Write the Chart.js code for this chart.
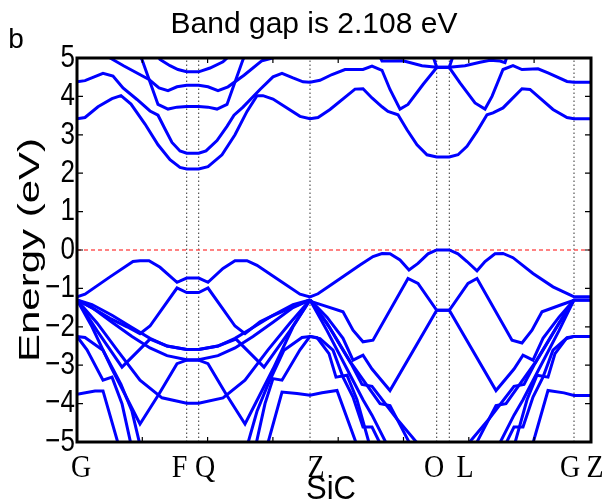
<!DOCTYPE html>
<html>
<head>
<meta charset="utf-8">
<script src="https://cdn.jsdelivr.net/npm/chart.js@4.4.1/dist/chart.umd.min.js"></script>
<style>
  body { margin: 0; background: #fff; }
  canvas { display: block; }
</style>
</head>
<body>
<canvas id="bands" width="605" height="503"></canvas>
<script>
// k-path positions of the high symmetry points and their labels
const kPoints = [0, 1.097, 1.217, 2.33, 3.597, 3.723, 4.97, 5.14];
const kNames = ["G", "F", "Q", "Z", "O", "L", "G", "Z"];
const kNamePos = [0.04, 1.025, 1.28, 2.39, 3.57, 3.88, 4.93, 5.18];
const kGuides = [1.097, 1.217, 2.33, 3.597, 3.723, 4.97];
const kMinor = [0.653, 1.306, 1.959, 2.612, 3.265, 3.918, 4.571];
const energyTicks = [5, 4, 3, 2, 1, 0, -1, -2, -3, -4, -5];

// conduction bands [k, E]
const cb1 = [[0,3.42],[0.08,3.45],[0.21,3.73],[0.35,3.94],[0.44,4.02],[0.54,3.80],[0.68,3.28],[0.81,2.74],[0.93,2.35],[1.03,2.15],[1.097,2.108],[1.217,2.108],[1.31,2.17],[1.45,2.48],[1.58,3.0],[1.70,3.61],[1.80,4.02],[1.86,4.02],[1.96,3.93],[2.23,3.48],[2.33,3.42],[2.41,3.45],[2.53,3.66],[2.78,4.19],[2.86,4.20],[2.95,3.96],[3.05,3.73],[3.11,3.61],[3.21,3.52],[3.30,3.13],[3.40,2.74],[3.50,2.48],[3.597,2.42],[3.723,2.42],[3.81,2.48],[3.90,2.70],[4.00,3.09],[4.10,3.52],[4.16,3.57],[4.26,3.70],[4.45,4.20],[4.53,4.18],[4.76,3.66],[4.90,3.45],[4.97,3.42],[5.14,3.42]];
const cb2 = [[0,4.38],[0.08,4.41],[0.26,4.60],[0.36,4.53],[0.46,4.22],[0.60,3.92],[0.73,3.62],[0.81,3.51],[0.88,3.15],[0.95,2.80],[1.03,2.58],[1.097,2.52],[1.217,2.52],[1.29,2.58],[1.40,2.85],[1.50,3.22],[1.57,3.51],[1.66,3.72],[1.83,4.18],[1.96,4.51],[2.05,4.60],[2.16,4.48],[2.26,4.38],[2.33,4.37],[2.43,4.42],[2.55,4.57],[2.68,4.70],[2.86,4.70],[2.95,4.79],[3.05,4.68],[3.13,4.18],[3.23,3.67],[3.31,3.79],[3.46,4.31],[3.597,4.75],[3.723,4.75],[3.83,4.35],[3.98,3.83],[4.08,3.67],[4.15,4.0],[4.26,4.70],[4.36,4.80],[4.45,4.70],[4.61,4.72],[4.71,4.61],[4.90,4.39],[4.97,4.37],[5.14,4.37]];
const cb3 = [[0.60,5.2],[0.65,4.96],[0.81,3.79],[0.91,3.67],[1.0,3.72],[1.097,3.74],[1.217,3.74],[1.31,3.72],[1.40,3.67],[1.50,3.79],[1.66,4.96],[1.71,5.2]];
const cb4 = [[0.28,5.2],[0.33,5.0],[0.47,4.79],[0.72,4.44],[0.82,4.22],[0.91,4.15],[1.0,4.25],[1.097,4.29],[1.217,4.29],[1.31,4.25],[1.41,4.15],[1.51,4.25],[1.67,4.55],[1.85,4.93],[1.96,5.0],[2.02,5.2]];
const cb5 = [[0.78,5.2],[0.83,4.96],[0.93,4.80],[1.01,4.70],[1.097,4.64],[1.217,4.64],[1.33,4.74],[1.46,4.90],[1.50,5.0],[1.55,5.2]];
const cb6 = [[3.0,5.2],[3.05,4.92],[3.26,4.93],[3.45,4.80],[3.597,4.76],[3.723,4.76],[3.88,4.80],[4.03,4.89],[4.13,4.94],[4.23,4.92],[4.28,4.88],[4.32,5.2]];
const cb7 = [[3.54,5.2],[3.597,4.76],[3.723,4.76],[3.78,5.2]];

// valence bands [k, E]
const vb1 = [[0,-1.22],[0.08,-1.15],[0.33,-0.70],[0.56,-0.30],[0.63,-0.28],[0.72,-0.28],[0.83,-0.45],[1.0,-0.84],[1.097,-0.73],[1.217,-0.73],[1.31,-0.84],[1.46,-0.48],[1.58,-0.28],[1.70,-0.28],[1.80,-0.40],[2.0,-0.75],[2.23,-1.15],[2.33,-1.22],[2.41,-1.14],[2.56,-0.87],[2.83,-0.39],[2.96,-0.17],[3.05,-0.09],[3.13,-0.10],[3.23,-0.26],[3.32,-0.52],[3.41,-0.35],[3.51,-0.10],[3.597,0],[3.723,0],[3.81,-0.10],[3.90,-0.30],[4.0,-0.54],[4.08,-0.30],[4.18,-0.10],[4.26,-0.09],[4.36,-0.20],[4.56,-0.61],[4.76,-0.96],[4.93,-1.17],[4.97,-1.22],[5.14,-1.22]];
const vb2 = [[0,-1.3],[0.16,-1.52],[0.33,-1.78],[0.50,-2.0],[0.63,-2.18],[0.73,-1.98],[1.0,-0.99],[1.097,-1.11],[1.217,-1.11],[1.31,-0.99],[1.58,-1.98],[1.68,-2.18],[1.83,-1.87],[1.93,-1.74],[2.16,-1.48],[2.33,-1.3]];
const vb3 = [[0,-1.3],[0.15,-1.42],[0.35,-1.7],[0.55,-2.02],[0.73,-2.3],[0.9,-2.5],[1.097,-2.59],[1.217,-2.59],[1.41,-2.5],[1.58,-2.3],[1.76,-2.02],[1.96,-1.7],[2.16,-1.42],[2.33,-1.3]];
const vb4 = [[0,-1.3],[0.15,-1.5],[0.35,-1.88],[0.55,-2.25],[0.73,-2.55],[0.9,-2.75],[1.097,-2.86],[1.217,-2.86],[1.41,-2.75],[1.58,-2.55],[1.76,-2.25],[1.96,-1.88],[2.16,-1.5],[2.33,-1.3]];
const vb5 = [[0,-1.3],[0.2,-2.1],[0.45,-3.05],[0.73,-2.32],[0.9,-2.5],[1.097,-2.59],[1.217,-2.59],[1.41,-2.5],[1.59,-2.32],[1.87,-3.05],[2.13,-2.1],[2.33,-1.3]];
const vb6 = [[0,-1.3],[0.15,-2.0],[0.35,-3.1],[0.63,-4.53],[0.82,-3.75],[1.0,-2.96],[1.097,-2.87],[1.217,-2.87],[1.31,-2.96],[1.49,-3.75],[1.68,-4.53],[1.96,-3.1],[2.16,-2.0],[2.33,-1.3]];
const vb7 = [[0,-1.3],[0.2,-1.9],[0.4,-2.6],[0.63,-3.39],[0.85,-3.85],[1.097,-3.99],[1.217,-3.99],[1.46,-3.85],[1.68,-3.39],[1.91,-2.6],[2.13,-1.9],[2.33,-1.3]];
const vb8 = [[0,-2.25],[0.08,-2.28],[0.26,-2.61],[0.44,-3.5],[0.55,-4.2],[0.65,-5.3]];
const vb9 = [[0,-2.25],[0.1,-2.6],[0.26,-3.39],[0.35,-3.31],[0.45,-4.0],[0.56,-5.3]];
const vb10 = [[0,-3.76],[0.18,-3.67],[0.26,-3.67],[0.44,-5.3]];
const vb11 = [[1.68,-5.3],[1.80,-4.2],[1.91,-3.5],[2.07,-2.61],[2.25,-2.28],[2.33,-2.25],[2.43,-2.31],[2.56,-2.61],[2.66,-3.31],[2.76,-3.83],[2.86,-4.61],[2.95,-4.61],[3.08,-5.3]];
const vb12 = [[1.77,-5.3],[1.88,-4.0],[1.96,-3.35],[2.05,-3.39],[2.23,-2.6],[2.33,-2.25],[2.4,-2.28],[2.52,-2.7],[2.59,-3.31],[2.7,-3.26],[2.8,-3.9],[2.95,-5.3]];
const vb13 = [[1.88,-5.3],[2.05,-3.70],[2.2,-3.74],[2.33,-3.78],[2.45,-3.72],[2.6,-3.66],[2.83,-5.3]];
const vb14 = [[2.33,-1.33],[2.47,-1.45],[2.66,-1.61],[2.76,-2.09],[2.86,-2.39],[2.96,-2.35],[3.31,-0.74],[3.41,-0.87],[3.597,-1.57],[3.723,-1.57],[3.91,-0.87],[4.0,-0.74],[4.35,-2.35],[4.45,-2.42],[4.55,-2.09],[4.65,-1.61],[4.85,-1.42],[4.97,-1.31],[5.14,-1.31]];
const vb15 = [[2.33,-1.3],[2.5,-1.75],[2.66,-2.3],[2.76,-2.87],[2.86,-2.74],[2.95,-3.1],[3.13,-3.66],[3.597,-1.57],[3.723,-1.57],[4.19,-3.66],[4.37,-3.1],[4.46,-2.74],[4.56,-2.87],[4.66,-2.3],[4.82,-1.75],[4.97,-1.3],[5.14,-1.3]];
const vb16 = [[2.33,-1.3],[2.5,-1.9],[2.73,-2.9],[3.03,-4.0],[3.13,-4.05],[3.24,-4.6],[3.38,-5.3]];
const vb17 = [[2.33,-1.3],[2.52,-2.0],[2.75,-3.0],[2.85,-3.5],[2.95,-3.55],[3.2,-4.4],[3.49,-5.3]];
const vb18 = [[2.33,-1.3],[2.5,-2.1],[2.7,-3.1],[2.86,-3.9],[2.95,-4.3],[3.145,-5.3]];
const vb19 = [[3.94,-5.3],[4.08,-4.6],[4.19,-4.05],[4.29,-4.0],[4.59,-2.9],[4.82,-1.9],[4.97,-1.3]];
const vb20 = [[3.83,-5.3],[4.12,-4.4],[4.37,-3.55],[4.47,-3.5],[4.57,-3.0],[4.80,-2.0],[4.97,-1.3]];
const vb21 = [[4.175,-5.3],[4.37,-4.3],[4.46,-3.9],[4.62,-3.1],[4.82,-2.1],[4.97,-1.3]];
const vb22 = [[4.24,-5.3],[4.37,-4.61],[4.46,-4.61],[4.56,-3.83],[4.66,-3.31],[4.76,-2.61],[4.89,-2.31],[4.97,-2.25],[5.14,-2.25]];
const vb23 = [[4.35,-5.3],[4.5,-3.9],[4.6,-3.26],[4.71,-3.31],[4.78,-2.7],[4.9,-2.28],[4.97,-2.25]];
const vb24 = [[4.53,-5.3],[4.71,-3.66],[4.87,-3.72],[4.97,-3.79],[5.14,-3.79]];

const bands = [cb1, cb2, cb3, cb4, cb5, cb6, cb7,
  vb1, vb2, vb3, vb4, vb5, vb6, vb7, vb8, vb9, vb10, vb11, vb12,
  vb13, vb14, vb15, vb16, vb17, vb18, vb19, vb20, vb21, vb22, vb23, vb24];

function toPoints(band) {
  return band.map((p) => ({ x: p[0], y: p[1] }));
}

var datasets = [];

for (var i = 0; i < bands.length; i++) {
  datasets.push({
    data: toPoints(bands[i]),
    borderColor: "#0000ff",
    borderWidth: 3,
    order: 1,
  });
}

// Fermi level
datasets.push({
  data: [{ x: 0, y: 0 }, { x: 5.14, y: 0 }],
  borderColor: "rgba(255, 60, 60, 0.85)",
  borderWidth: 1.5,
  borderDash: [4, 3],
  order: 2,
});

// dotted lines at the symmetry points
for (var j = 0; j < kGuides.length; j++) {
  datasets.push({
    data: [{ x: kGuides[j], y: -5 }, { x: kGuides[j], y: 5 }],
    borderColor: "#333333",
    borderWidth: 1,
    borderDash: [1.5, 2.5],
    order: 3,
  });
}

function stretchedText(ctx, text, x, y, sx, sy, align) {
  ctx.save();
  ctx.translate(x, y);
  ctx.scale(sx, sy);
  ctx.textAlign = align;
  ctx.fillText(text, 0, 0);
  ctx.restore();
}

const frame = {
  id: "frame",
  afterDraw(chart) {
    const ctx = chart.ctx;
    const area = chart.chartArea;
    const xs = chart.scales.x;
    const ys = chart.scales.y;

    ctx.save();
    ctx.strokeStyle = "#000";
    ctx.lineWidth = 1.2;
    ctx.beginPath();
    for (const v of energyTicks) {
      const py = ys.getPixelForValue(v);
      ctx.moveTo(area.left, py);
      ctx.lineTo(area.left + 6, py);
      ctx.moveTo(area.right, py);
      ctx.lineTo(area.right - 6, py);
    }
    for (const k of kMinor) {
      const px = xs.getPixelForValue(k);
      ctx.moveTo(px, area.bottom);
      ctx.lineTo(px, area.bottom - 5);
      ctx.moveTo(px, area.top);
      ctx.lineTo(px, area.top + 5);
    }
    ctx.stroke();

    ctx.lineWidth = 3;
    ctx.strokeRect(area.left, area.top, area.right - area.left, area.bottom - area.top);

    ctx.fillStyle = "#000";
    ctx.textBaseline = "middle";
    ctx.font = "26px 'Liberation Sans', Arial, sans-serif";
    for (const v of energyTicks) {
      const py = ys.getPixelForValue(v);
      const label = v < 0 ? "\u2212" + Math.abs(v) : String(v);
      stretchedText(ctx, label, area.left - 2, py, 1, 1.24, "right");
    }

    ctx.font = "28px 'Liberation Serif', 'Times New Roman', serif";
    ctx.textBaseline = "alphabetic";
    for (var n = 0; n < kNames.length; n++) {
      const px = xs.getPixelForValue(kNamePos[n]);
      stretchedText(ctx, kNames[n], px, area.bottom + 35, 1, 1.15, "center");
    }

    ctx.font = "31px 'Liberation Sans', Arial, sans-serif";
    stretchedText(ctx, "SiC", (area.left + area.right) / 2 - 3, area.bottom + 57, 1, 1.1, "center");

    // axis title, drawn a little elongated along its length
    ctx.save();
    ctx.translate(31, (area.top + area.bottom) / 2);
    ctx.rotate(-Math.PI / 2);
    ctx.textBaseline = "middle";
    ctx.font = "30px 'Liberation Sans', Arial, sans-serif";
    stretchedText(ctx, "Energy (eV)", 0, 0, 1.4, 1, "center");
    ctx.restore();

    ctx.font = "30px 'Liberation Sans', Arial, sans-serif";
    stretchedText(ctx, "Band gap is 2.108 eV", 314, 33, 1, 1, "center");

    ctx.font = "28px 'Liberation Sans', Arial, sans-serif";
    stretchedText(ctx, "b", 16, 48, 1, 1, "center");
    ctx.restore();
  },
};

new Chart(document.getElementById("bands"), {
  type: "scatter",
  data: { datasets: datasets },
  options: {
    responsive: false,
    animation: false,
    layout: { padding: { left: 77, right: 14, top: 58, bottom: 61 } },
    elements: { point: { radius: 0 }, line: { tension: 0 } },
    datasets: { scatter: { showLine: true, fill: false } },
    plugins: { legend: { display: false }, tooltip: { enabled: false } },
    scales: {
      x: { type: "linear", min: 0, max: 5.14, display: false },
      y: { type: "linear", min: -5, max: 5, display: false },
    },
  },
  plugins: [frame],
});
</script>
</body>
</html>
